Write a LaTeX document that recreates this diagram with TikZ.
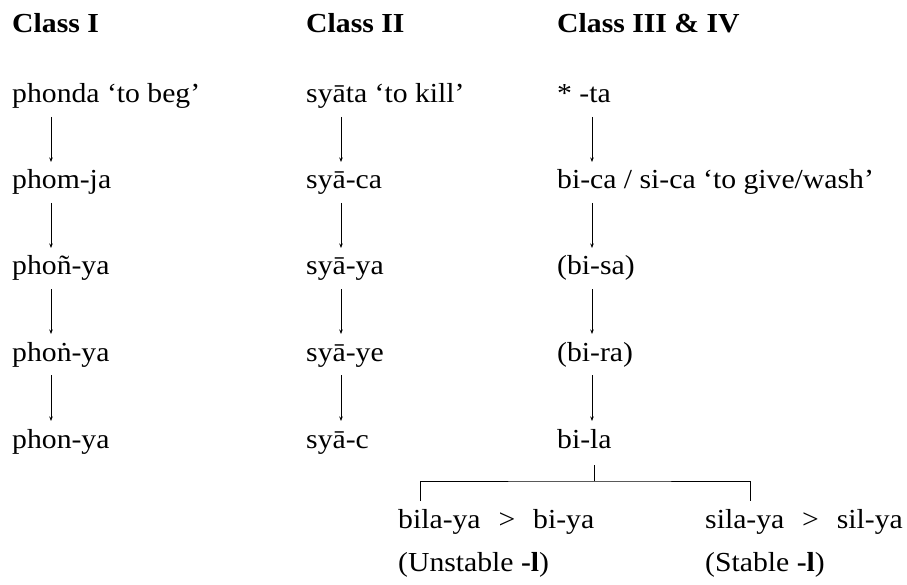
\documentclass[tikz,border=0pt]{standalone}
\usepackage{fontspec}
\setmainfont{Liberation Serif}[FakeStretch=1.08]
\usetikzlibrary{arrows.meta}
\begin{document}
\begin{tikzpicture}[x=1pt,y=-1pt,
  lbl/.style={anchor=base west, inner sep=0pt, font=\fontsize{27.5}{30}\selectfont},
  hdr/.style={anchor=base west, inner sep=0pt, font=\fontsize{27.5}{30}\selectfont\bfseries},
  arr/.style={line width=0.7pt, -{Stealth[length=4.5pt,width=3.5pt]}},
  ln/.style={line width=0.7pt}]
\useasboundingbox (0,0) rectangle (907,585);
% headers
\node[hdr] (h1) at (12,33) {Class I};
\node[hdr] (h2) at (306,33) {Class II};
\node[hdr] (h3) at (557,33) {Class III \& IV};
% column 1
\node[lbl] (a1) at (12,103) {phonda ‘to beg’};
\node[lbl] (a2) at (12,189) {phom-ja};
\node[lbl] (a3) at (12,275) {phoñ-ya};
\node[lbl] (a4) at (12,361) {phoṅ-ya};
\node[lbl] (a5) at (12,448) {phon-ya};
% column 2
\node[lbl] (b1) at (306,103) {syāta ‘to kill’};
\node[lbl] (b2) at (306,189) {syā-ca};
\node[lbl] (b3) at (306,275) {syā-ya};
\node[lbl] (b4) at (306,361) {syā-ye};
\node[lbl] (b5) at (306,448) {syā-c};
% column 3
\node[lbl] (c1) at (557,103) {* -ta};
\node[lbl] (c2) at (557,189) {bi-ca / si-ca ‘to give/wash’};
\node[lbl] (c3) at (557,275) {(bi-sa)};
\node[lbl] (c4) at (557,361) {(bi-ra)};
\node[lbl] (c5) at (557,448) {bi-la};
% bottom
\node[lbl] (d1) at (398,528) {bila-ya\hspace{0.65em}>\hspace{0.65em}bi-ya};
\node[lbl] (d2) at (398,571) {(Unstable \textbf{-l})};
\node[lbl] (e1) at (705,528) {sila-ya\hspace{0.65em}>\hspace{0.65em}sil-ya};
\node[lbl] (e2) at (705,571) {(Stable \textbf{-l})};
% arrows
\foreach \u/\v in {a1/a2,a2/a3,a3/a4,a4/a5}
  \draw[arr] ([shift={(39,14)}]\u.base west) -- ([shift={(39,-27)}]\v.base west);
\foreach \u/\v in {b1/b2,b2/b3,b3/b4,b4/b5}
  \draw[arr] ([shift={(35,14)}]\u.base west) -- ([shift={(35,-27)}]\v.base west);
\foreach \u/\v in {c1/c2,c2/c3,c3/c4,c4/c5}
  \draw[arr] ([shift={(35,14)}]\u.base west) -- ([shift={(35,-27)}]\v.base west);
% split
\coordinate (j) at ([shift={(37,33)}]c5.base west);
\draw[ln] ([shift={(37,17)}]c5.base west) -- (j);
\draw[ln] ([shift={(22,-27)}]d1.base west) |- (j) -| ([shift={(45,-27)}]e1.base west);
\end{tikzpicture}
\end{document}
